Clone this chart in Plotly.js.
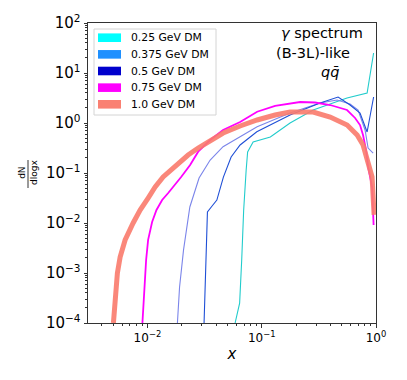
<!DOCTYPE html>
<html>
<head>
<meta charset="utf-8">
<script src="https://cdn.plot.ly/plotly-3.0.1.min.js"></script>
<style>
  html, body { margin: 0; padding: 0; background: #fff; }
  #graph { width: 407px; height: 380px; }
</style>
</head>
<body>
<div id="graph"></div>
<script>
// values (x = photon energy fraction, y = dN/dlogx)
const x025 = [0.0585, 0.0641, 0.0668, 0.0695, 0.0731, 0.0753, 0.0841, 0.119, 0.177, 0.282, 0.558, 0.836, 0.953];
const y025 = [1e-4, 2.5e-4, 1.8e-3, 0.018, 0.115, 0.263, 0.417, 0.525, 1.0, 1.82, 3.16, 3.98, 25.1];

const x0375 = [0.0183, 0.0191, 0.0207, 0.0235, 0.0283, 0.0354, 0.0459, 0.0647, 0.0912, 0.177, 0.324, 0.457, 0.593, 0.697, 0.802, 0.853, 0.944];
const y0375 = [1e-4, 5.2e-4, 2.9e-3, 0.0209, 0.0794, 0.182, 0.336, 0.532, 0.843, 1.585, 2.51, 2.88, 2.40, 1.82, 0.724, 0.316, 0.251];

const x05 = [0.0313, 0.0323, 0.0335, 0.0368, 0.0405, 0.0462, 0.0540, 0.0647, 0.0906, 0.177, 0.324, 0.466, 0.593, 0.725, 0.836, 0.953];
const y05 = [1e-4, 1.15e-3, 0.0166, 0.0219, 0.0288, 0.083, 0.209, 0.363, 0.67, 1.445, 2.51, 3.31, 2.29, 1.585, 0.66, 3.31];

const x075 = [0.00904, 0.00926, 0.00949, 0.00974, 0.01014, 0.01099, 0.0120, 0.01345, 0.0152, 0.01747, 0.0198, 0.02363, 0.0278, 0.0354, 0.0459, 0.0647, 0.0912, 0.131, 0.177, 0.217, 0.293, 0.397, 0.558, 0.656, 0.725, 0.770, 0.819, 0.853, 0.924, 0.953];
const y075 = [1e-4, 2.88e-4, 7.2e-4, 1.82e-3, 4.6e-3, 0.01047, 0.0182, 0.0288, 0.0398, 0.0575, 0.0843, 0.1445, 0.267, 0.457, 0.724, 1.047, 1.68, 2.19, 2.48, 2.63, 2.57, 2.29, 1.82, 1.26, 0.91, 0.575, 0.288, 0.132, 0.0525, 0.0091];

const x10 = [0.00504, 0.00522, 0.00546, 0.00577, 0.00638, 0.00750, 0.00863, 0.01014, 0.01168, 0.01372, 0.01612, 0.01932, 0.0227, 0.0278, 0.0354, 0.0460, 0.0647, 0.0912, 0.131, 0.177, 0.282, 0.397, 0.559, 0.684, 0.771, 0.836, 0.888, 0.924, 0.962];
const y10 = [1e-4, 3.31e-4, 1e-3, 2.09e-3, 4.57e-3, 0.01, 0.0182, 0.0316, 0.0525, 0.0832, 0.115, 0.166, 0.229, 0.316, 0.437, 0.631, 0.871, 1.148, 1.445, 1.66, 1.66, 1.318, 0.912, 0.575, 0.363, 0.182, 0.115, 0.0832, 0.0145];

const seriesNames = ["0.25 GeV DM", "0.375 GeV DM", "0.5 GeV DM", "0.75 GeV DM", "1.0 GeV DM"];
const legendColors = ["#00ffff", "#1e90ff", "#0000cd", "#ff00ff", "#fa8072"];
const lineColors = ["#22cccc", "#7b85ea", "#1f4fd6", "#ff00ff", "rgba(250,122,108,0.9)"];
const lineWidths = [1.1, 1.1, 1.1, 1.8, 5];

const xTickVals = [0.01, 0.1, 1];
const xTickText = ["10<sup>\u22122</sup>", "10<sup>\u22121</sup>", "10<sup>0</sup>"];
const yTickVals = [1e-4, 1e-3, 1e-2, 1e-1, 1, 10, 100];
const yTickText = ["10<sup>\u22124</sup>", "10<sup>\u22123</sup>", "10<sup>\u22122</sup>", "10<sup>\u22121</sup>", "10<sup>0</sup>", "10<sup>1</sup>", "10<sup>2</sup>"];

// minor log ticks 2..9 per decade
function minorTicks(lo, hi) {
    const out = [];
    for (let k = lo; k < hi; k++) {
        for (let d = 2; d <= 9; d++) out.push(d * Math.pow(10, k));
    }
    return out;
}

const xs = [x025, x0375, x05, x075, x10];
const ys = [y025, y0375, y05, y075, y10];

const traces = xs.map((xv, i) => ({
    x: xv, y: ys[i],
    type: "scatter", mode: "lines",
    name: seriesNames[i],
    line: { color: lineColors[i], width: lineWidths[i] },
    showlegend: false, hoverinfo: "skip"
}));

// plot box in pixels, for placing the legend and labels
const W = 407, H = 380;
const M = { l: 88, r: 31, t: 23, b: 57 };
const pw = W - M.l - M.r, ph = H - M.t - M.b;
const px = v => (v - M.l) / pw;
const py = v => 1 - (v - M.t) / ph;

const F = "DejaVu Sans, sans-serif";
const ink = "#333";

// legend drawn by hand (matplotlib-style patches)
const shapes = [];
const annotations = [];
shapes.push({
    type: "rect", xref: "paper", yref: "paper", layer: "above",
    x0: px(94), x1: px(216), y0: py(115), y1: py(29),
    line: { color: "#d4d4d4", width: 1 }, fillcolor: "rgba(255,255,255,0.8)"
});
seriesNames.forEach((name, i) => {
    const cy = 37.7 + i * 16.65;
    shapes.push({
        type: "rect", xref: "paper", yref: "paper", layer: "above",
        x0: px(98), x1: px(121), y0: py(cy + 4.3), y1: py(cy - 4.3),
        line: { width: 0 }, fillcolor: legendColors[i]
    });
    annotations.push({
        xref: "paper", yref: "paper", x: px(129), y: py(cy), xanchor: "left", yanchor: "middle",
        showarrow: false, text: name, font: { family: F, size: 10.8, color: "#000" }
    });
});

annotations.push(
    { xref: "paper", yref: "paper", x: px(322), y: py(33), xanchor: "center", yanchor: "middle", showarrow: false,
      text: "<i>\u03b3</i> spectrum", font: { family: F, size: 14.5, color: "#000" } },
    { xref: "paper", yref: "paper", x: px(312.5), y: py(53), xanchor: "center", yanchor: "middle", showarrow: false,
      text: "(B-3L)-like", font: { family: F, size: 14.5, color: "#000" } },
    { xref: "paper", yref: "paper", x: px(330), y: py(72), xanchor: "center", yanchor: "middle", showarrow: false,
      text: "<i>q</i><i>q\u0304</i>", font: { family: F, size: 14.5, color: "#000" } },
    { xref: "paper", yref: "paper", x: px(28), y: py(173), xanchor: "center", yanchor: "middle", showarrow: false,
      textangle: -90, text: "dN<br>dlogx", font: { family: F, size: 9, color: "#000" } }
);
shapes.push({ type: "line", xref: "paper", yref: "paper", x0: px(28), x1: px(28), y0: py(188), y1: py(160),
    line: { color: "#000", width: 0.8 } });

const layout = {
    width: W, height: H,
    margin: M,
    paper_bgcolor: "#fff", plot_bgcolor: "#fff",
    font: { family: F, color: "#000" },
    showlegend: false,
    xaxis: {
        type: "log", range: [-2.52, 0],
        showgrid: false, zeroline: false,
        showline: true, linecolor: ink, linewidth: 1, mirror: true,
        ticks: "outside", ticklen: 3.5, tickwidth: 1, tickcolor: ink,
        tickmode: "array", tickvals: xTickVals, ticktext: xTickText,
        tickfont: { family: F, size: 12, color: "#000" },
        minor: { tickmode: "array", tickvals: minorTicks(-3, 0), ticks: "outside", ticklen: 2, tickcolor: ink, showgrid: false },
        title: { text: "<i>x</i>", font: { family: F, size: 15, color: "#000" }, standoff: 4 }
    },
    yaxis: {
        type: "log", range: [-4, 2],
        showgrid: false, zeroline: false,
        showline: true, linecolor: ink, linewidth: 1, mirror: true,
        ticks: "outside", ticklen: 3.5, tickwidth: 1, tickcolor: ink,
        tickmode: "array", tickvals: yTickVals, ticktext: yTickText,
        tickfont: { family: F, size: 15, color: "#000" },
        minor: { tickmode: "array", tickvals: minorTicks(-4, 2), ticks: "outside", ticklen: 2, tickcolor: ink, showgrid: false }
    },
    annotations: annotations,
    shapes: shapes
};

Plotly.newPlot("graph", traces, layout, { staticPlot: true, displayModeBar: false });
</script>
</body>
</html>
